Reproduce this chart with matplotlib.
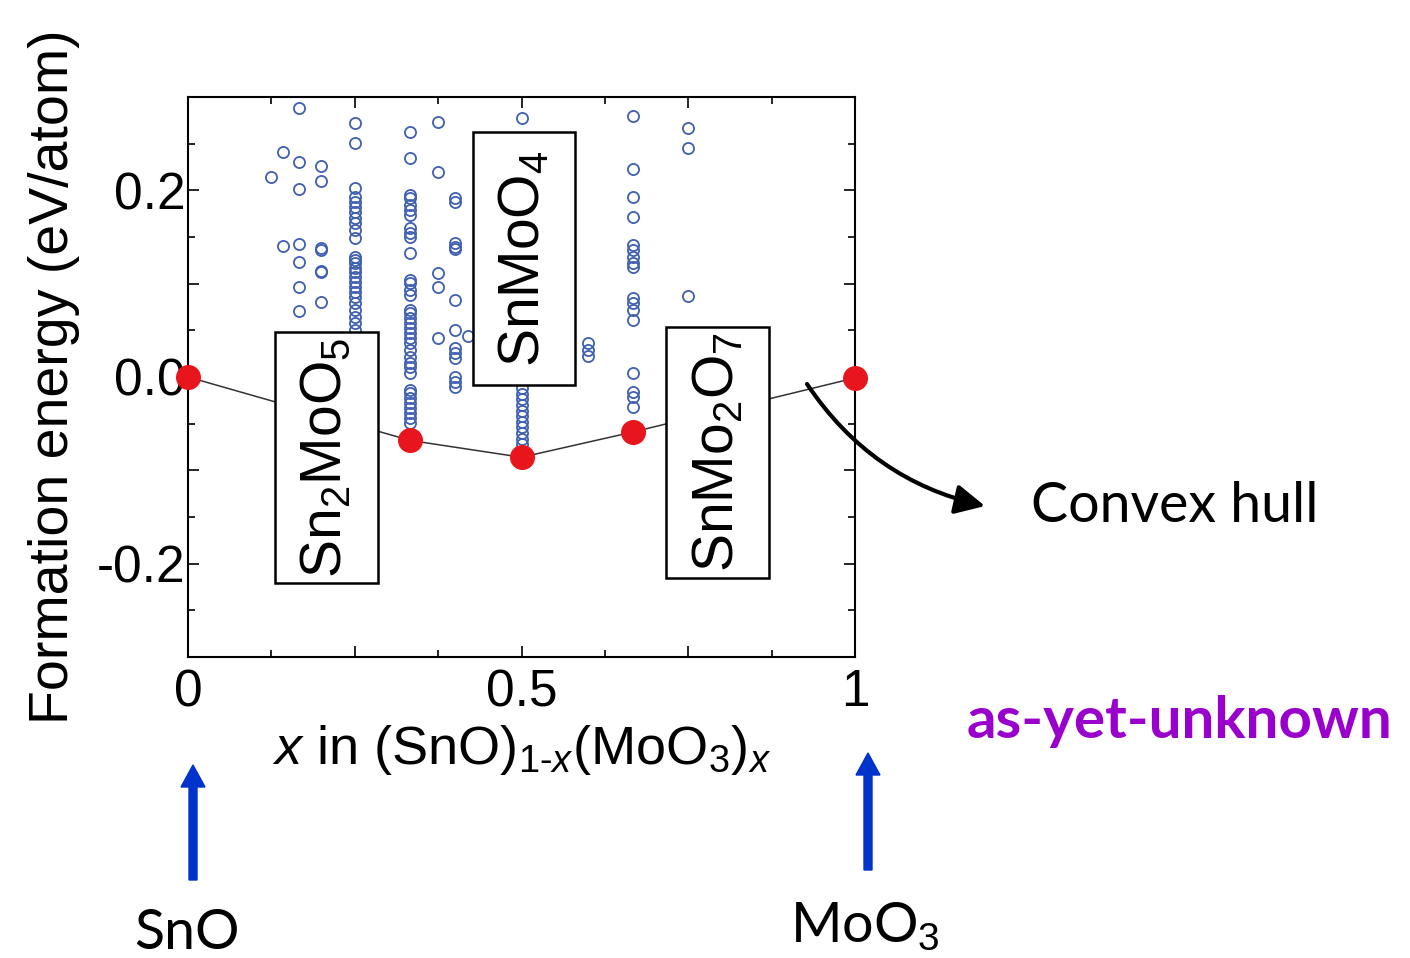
import numpy as np
import matplotlib
matplotlib.use('Agg')
import matplotlib.pyplot as plt
from matplotlib import font_manager
from matplotlib.patches import Rectangle, FancyArrow, FancyArrowPatch

# Candidate structures: energy above reference per composition x
cand_x = [1/8, 1/7, 1/6, 1/5, 1/4, 1/3, 3/8, 2/5, 0.42, 1/2, 0.6, 2/3, 3/4]
cand_e = [
	[0.214],
	[0.241, 0.140],
	[0.288, 0.230, 0.201, 0.143, 0.123, 0.096, 0.071],
	[0.226, 0.210, 0.138, 0.136, 0.114, 0.112, 0.080],
	[0.272, 0.251, 0.203, 0.193, 0.187, 0.182, 0.177, 0.170, 0.165, 0.158, 0.149,
	 0.129, 0.125, 0.122, 0.117, 0.113, 0.107, 0.102, 0.096, 0.091, 0.086, 0.079,
	 0.072, 0.064, 0.058, 0.050, 0.040, 0.020],
	[0.262, 0.235, 0.195, 0.192, 0.184, 0.179, 0.174, 0.160, 0.154, 0.150, 0.133,
	 0.104, 0.101, 0.093, 0.088, 0.072, 0.069, 0.063, 0.058, 0.053, 0.047, 0.042,
	 0.036, 0.029, 0.021, 0.015, 0.011, 0.004, -0.014, -0.017, -0.023, -0.028,
	 -0.033, -0.039, -0.044, -0.049],
	[0.273, 0.220, 0.111, 0.096, 0.042],
	[0.192, 0.188, 0.144, 0.139, 0.137, 0.083, 0.050, 0.031, 0.026, 0.020, 0.000,
	 -0.005, -0.011],
	[0.044],
	[0.277, -0.012, -0.018, -0.024, -0.030, -0.036, -0.042, -0.048, -0.054, -0.060,
	 -0.066, -0.072],
	[0.036, 0.029, 0.022],
	[0.280, 0.223, 0.193, 0.171, 0.141, 0.136, 0.129, 0.122, 0.118, 0.085, 0.079,
	 0.072, 0.061, 0.004, -0.016, -0.021, -0.032],
	[0.267, 0.245, 0.087],
]

# Convex hull vertices
hull_x = [0, 1/3, 1/2, 2/3, 1]
hull_e = [0.0, -0.068, -0.086, -0.059, -0.001]

# Labelled stable phases
phase_labels = ['Sn$_2$MoO$_5$', 'SnMoO$_4$', 'SnMo$_2$O$_7$']
phase_box_x = [(0.130, 0.285), (0.427, 0.580), (0.717, 0.871)]
phase_box_y = [(-0.221, 0.048), (-0.009, 0.262), (-0.215, 0.054)]

plt.rcParams['font.family'] = 'Liberation Sans'
plt.rcParams['mathtext.fontset'] = 'custom'
plt.rcParams['mathtext.rm'] = 'Liberation Sans'
plt.rcParams['mathtext.it'] = 'Liberation Sans:italic'
plt.rcParams['mathtext.bf'] = 'Liberation Sans:bold'

# Narrow face for the box labels if it is installed
try:
	font_manager.findfont(font_manager.FontProperties(family='Liberation Sans Narrow'),
		fallback_to_default=False)
	box_font, box_size = 'Liberation Sans Narrow', 47
except Exception:
	box_font, box_size = 'Liberation Sans', 41

W, H = 1410, 958
fig = plt.figure(figsize=(W / 100, H / 100), dpi=100)
ax = fig.add_axes([188 / W, 1 - 657 / H, (855 - 188) / W, (657 - 97) / H])

# Scatter of candidates
xs, ys = [], []
for xv, es in zip(cand_x, cand_e):
	xs += [xv] * len(es)
	ys += es
ax.plot(xs, ys, 'o', ls='none', mfc='none', mec='#3f5fb0', ms=8, mew=1.3, zorder=2)

# Hull line and points
ax.plot(hull_x, hull_e, '-', color='#333333', lw=1.1, zorder=3)
ax.plot(hull_x, hull_e, 'o', ls='none', color='#e8161c', ms=17, zorder=6, clip_on=False)

# Phase boxes
for lab, (x0, x1), (y0, y1) in zip(phase_labels, phase_box_x, phase_box_y):
	ax.add_patch(Rectangle((x0, y0), x1 - x0, y1 - y0, facecolor='white',
		edgecolor='black', lw=1.8, zorder=4))
	ax.text((x0 + x1) / 2, (y0 + y1) / 2, lab, rotation=90, ha='center', va='center',
		fontsize=box_size, family=box_font, zorder=5)

ax.set_xlim(0, 1)
ax.set_ylim(-0.3, 0.3)
ax.set_xticks([0, 0.25, 0.5, 0.75, 1])
ax.set_xticklabels(['0', '', '0.5', '', '1'])
ax.set_xticks(np.arange(0, 1.001, 0.125), minor=True)
ax.set_yticks([-0.3, -0.2, -0.1, 0, 0.1, 0.2, 0.3])
ax.set_yticklabels(['', '-0.2', '', '0.0', '', '0.2', ''])
ax.set_yticks(np.arange(-0.3, 0.301, 0.05), minor=True)
ax.tick_params(which='both', direction='in', top=True, right=True, width=1.2,
	labelsize=37, colors='black')
ax.tick_params(which='major', length=8)
ax.tick_params(which='minor', length=5)
ax.tick_params(axis='x', pad=8)
ax.tick_params(axis='y', pad=2)
for sp in ax.spines.values():
	sp.set_linewidth(1.5)

ax.set_ylabel('Formation energy (eV/atom)', fontsize=40, labelpad=12)
ax.set_xlabel(r'$x$ in (SnO)$_{1\text{-}x}$(MoO$_3$)$_x$', fontsize=39, labelpad=4)

# Annotations outside the plot (Calibri-like font)
ann_font = 'Lato'
def fx(px):
	return px / W
def fy(py):
	return 1 - py / H

fig.text(fx(1175), fy(507), 'Convex hull', fontsize=40, family=ann_font,
	ha='center', va='center')
fig.text(fx(1179), fy(722), 'as-yet-unknown', fontsize=42, family=ann_font,
	weight='bold', color='#9900cc', ha='center', va='center')
fig.text(fx(187), fy(949), 'SnO', fontsize=40, family=ann_font, ha='center',
	va='baseline')
fig.text(fx(865), fy(942), r'MoO$_3$', fontsize=40, family=ann_font, ha='center',
	va='baseline')

# Blue arrows (inches)
for x_px, y_tail, y_tip in [(193, 880, 765), (868, 870, 753)]:
	fig.add_artist(FancyArrow(x_px / 100, (H - y_tail) / 100, 0, (y_tail - y_tip) / 100,
		width=0.08, head_width=0.24, head_length=0.22, length_includes_head=True,
		color='#0033cc', transform=fig.dpi_scale_trans))

# Curved arrow to "Convex hull"
fig.add_artist(FancyArrowPatch((807 / 100, (H - 384) / 100), (985 / 100, (H - 506) / 100),
	connectionstyle='arc3,rad=0.2', arrowstyle='-|>,head_length=0.6,head_width=0.3',
	mutation_scale=30, lw=3, color='black', shrinkA=0, shrinkB=0,
	transform=fig.dpi_scale_trans))

fig.savefig('out.png', dpi=100)
